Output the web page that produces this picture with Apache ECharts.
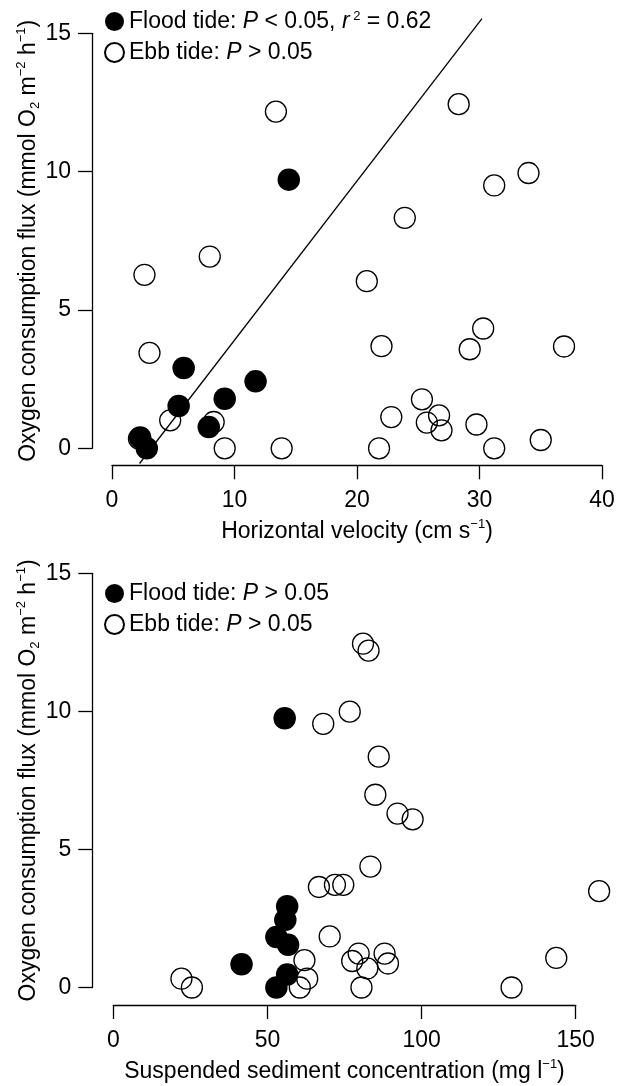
<!DOCTYPE html>
<html>
<head>
<meta charset="utf-8">
<script src="https://cdn.jsdelivr.net/npm/echarts@6/dist/echarts.min.js"></script>
<style>html,body{margin:0;padding:0;background:#fff}#c{width:633px;height:1086px}</style>
</head>
<body>
<div id="c"></div>
<script>
// ---- Data ----
// Top panel: horizontal velocity (cm s-1) vs O2 consumption flux
const floodVelocity = [[2.3,0.39],[2.84,0],[5.44,1.53],[5.85,2.9],[7.9,0.77],[9.2,1.79],[11.72,2.42],[14.43,9.71]];
const ebbVelocity = [[2.2,0.35],[2.65,6.27],[7.98,6.93],[3.06,3.45],[20.8,6.04],[22.0,3.69],[4.75,1.01],[8.3,0.95],
  [9.2,0],[13.85,0],[21.8,0],[22.8,1.13],[13.38,12.17],[28.3,12.44],[31.2,9.5],[34.0,9.95],[23.9,8.33],
  [30.3,4.33],[29.2,3.58],[36.9,3.68],[25.3,1.77],[25.7,0.93],[26.7,1.19],[26.9,0.65],[29.75,0.86],[31.2,0],[35.0,0.3]];
const fitLineVelocity = [[2.25,-0.55],[30.2,15.53]];
// Bottom panel: suspended sediment concentration (mg l-1) vs O2 consumption flux
const floodSSC = [[55.6,9.75],[56.4,2.94],[55.8,2.45],[52.9,1.83],[56.7,1.55],[41.6,0.84],[56.4,0.47],[52.9,0]];
const ebbSSC = [[81.0,12.45],[82.8,12.2],[68.1,9.55],[76.7,9.99],[86.1,8.36],[85.0,6.98],[92.2,6.3],[97.1,6.09],
  [83.4,4.38],[66.7,3.64],[71.9,3.72],[74.6,3.72],[157.6,3.49],[70.2,1.85],[62.0,0.99],[62.9,0.32],[60.5,0],
  [22.1,0.32],[25.5,0],[79.6,1.23],[77.5,0.96],[82.4,0.69],[80.5,0],[88.0,1.23],[89.1,0.87],[129.2,0],[143.7,1.07]];
// Axis ranges / ticks
const yRange = [0, 15, 5];
const xRangeTop = [0, 40, 10];
const xRangeBottom = [0, 150, 50];
// Texts
const yTitle = 'Oxygen consumption flux (mmol O{sub|2} m{sup|−2} h{sup|−1})';
const xTitleTop = 'Horizontal velocity (cm s{sup|−1})';
const xTitleBottom = 'Suspended sediment concentration (mg l{sup|−1})';
const legendTexts = {
  floodTop: 'Flood tide: {i|P} < 0.05, {i|r}{s| 2} = 0.62',
  ebbTop: 'Ebb tide: {i|P} > 0.05',
  floodBottom: 'Flood tide: {i|P} > 0.05',
  ebbBottom: 'Ebb tide: {i|P} > 0.05'
};

const FONT = '"Liberation Sans", Arial, sans-serif';
const FS = 23;
const sup = {fontSize: 13, lineHeight: 13, verticalAlign: 'top', fontFamily: FONT, color: '#000'};
const sub = {fontSize: 13, lineHeight: 13, verticalAlign: 'bottom', fontFamily: FONT, color: '#000'};
const nameStyle = {fontSize: FS, fontFamily: FONT, color: '#000', lineHeight: 27, rich: {sup: sup, sub: sub}};
const lineStyle = {color: '#000', width: 1.3};

function yAxis(gi, offset) {
  return {
    type: 'value', gridIndex: gi, min: yRange[0], max: yRange[1], interval: yRange[2], offset: offset,
    name: yTitle, nameLocation: 'middle', nameRotate: 90, nameGap: 50, nameMoveOverlap: false,
    nameTextStyle: nameStyle,
    axisLine: {show: true, onZero: false, lineStyle: lineStyle},
    axisTick: {show: true, length: 14, lineStyle: lineStyle},
    axisLabel: {fontSize: FS, fontFamily: FONT, color: '#000', margin: 21},
    splitLine: {show: false}
  };
}
function xAxis(gi, range, title, offset) {
  return {
    type: 'value', gridIndex: gi, min: range[0], max: range[1], interval: range[2], offset: offset,
    name: title, nameLocation: 'middle', nameGap: 53, nameTextStyle: nameStyle,
    axisLine: {show: true, onZero: false, lineStyle: lineStyle},
    axisTick: {show: true, length: 14, lineStyle: lineStyle},
    axisLabel: {fontSize: FS, fontFamily: FONT, color: '#000', margin: 24},
    splitLine: {show: false}
  };
}
const openStyle = {color: 'rgba(0,0,0,0)', borderColor: '#000', borderWidth: 1.3, opacity: 1};
const filledStyle = {color: '#000', borderColor: '#000', borderWidth: 0, opacity: 1};
function legend(top, names) {
  return {
    orient: 'vertical', left: 104, top: top, padding: 0, itemGap: 8, itemWidth: 19, itemHeight: 19,
    selectedMode: false, icon: 'circle',
    data: names,
    formatter: n => legendTexts[n],
    textStyle: {fontSize: FS, fontFamily: FONT, color: '#000', lineHeight: 23,
      rich: {i: {fontStyle: 'italic', fontSize: FS, fontFamily: FONT, color: '#000'}, s: sup}}
  };
}

const chart = echarts.init(document.getElementById('c'), null, {renderer: 'canvas'});
chart.setOption({
  animation: false,
  backgroundColor: '#fff',
  grid: [
    {left: 112, top: 33.3, width: 490, height: 415},
    {left: 113.3, top: 573.3, width: 462.4, height: 414.2}
  ],
  xAxis: [xAxis(0, xRangeTop, xTitleTop, 17), xAxis(1, xRangeBottom, xTitleBottom, 17.5)],
  yAxis: [yAxis(0, 20), yAxis(1, 21)],
  legend: [legend(10, ['floodTop', 'ebbTop']), legend(582, ['floodBottom', 'ebbBottom'])],
  series: [
    {name: 'fit', type: 'line', xAxisIndex: 0, yAxisIndex: 0, data: fitLineVelocity, symbol: 'none',
     lineStyle: {color: '#000', width: 1.3}, clip: false, z: 1},
    {name: 'ebbTop', type: 'scatter', xAxisIndex: 0, yAxisIndex: 0, data: ebbVelocity, symbol: 'circle',
     symbolSize: 21, itemStyle: openStyle, clip: false, z: 2},
    {name: 'floodTop', type: 'scatter', xAxisIndex: 0, yAxisIndex: 0, data: floodVelocity, symbol: 'circle',
     symbolSize: 22.5, itemStyle: filledStyle, clip: false, z: 3},
    {name: 'ebbBottom', type: 'scatter', xAxisIndex: 1, yAxisIndex: 1, data: ebbSSC, symbol: 'circle',
     symbolSize: 21, itemStyle: openStyle, clip: false, z: 2},
    {name: 'floodBottom', type: 'scatter', xAxisIndex: 1, yAxisIndex: 1, data: floodSSC, symbol: 'circle',
     symbolSize: 22.5, itemStyle: filledStyle, clip: false, z: 3}
  ]
});
</script>
</body>
</html>
